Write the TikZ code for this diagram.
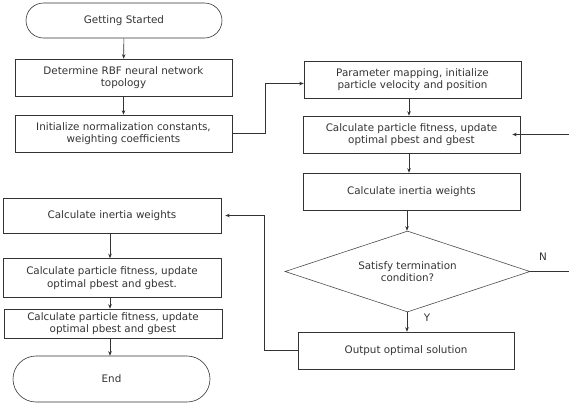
\documentclass[tikz,border=0pt]{standalone}
\usepackage{fontspec}
\setmainfont{DejaVu Sans}
\usetikzlibrary{shapes.misc,shapes.geometric,arrows.meta}
\tikzset{
  every node/.style={font=\fontsize{10.4}{12.5}\selectfont, text=black!80},
  box/.style={draw=black!80, line width=0.6pt, rectangle, align=center, inner sep=0pt},
  term/.style={draw=black!80, line width=0.6pt, rounded rectangle, align=center, inner sep=0pt},
  dec/.style={draw=black!70, line width=0.6pt, diamond, aspect=3, align=center, inner sep=0pt},
  arr/.style={draw=black!80, line width=0.6pt, -{Stealth[length=4.5pt,width=3.5pt]}},
  ln/.style={draw=black!80, line width=0.6pt},
}
\begin{document}
\begin{tikzpicture}[x=1bp,y=-1bp]
\useasboundingbox (0,0) rectangle (569,405);
\node[term, minimum width=196bp, minimum height=35bp] (start) at (124,20.5) {Getting Started};
\node[box, minimum width=217bp, minimum height=37bp] (b1) at (123.5,77.5) {Determine RBF neural network\\topology};
\node[box, minimum width=217bp, minimum height=37bp] (b2) at (123.5,133.5) {Initialize normalization constants,\\weighting coefficients};
\node[box, minimum width=217bp, minimum height=37bp] (param) at (412.5,79.5) {Parameter mapping, initialize\\particle velocity and position};
\node[box, minimum width=217bp, minimum height=37bp] (pb) at (411.5,134.5) {Calculate particle fitness, update\\optimal pbest and gbest};
\node[box, minimum width=217bp, minimum height=37bp] (inr) at (411.5,191.5) {Calculate inertia weights};
\node[dec, minimum width=245bp, minimum height=81bp] (dia) at (407.5,271.5) {Satisfy termination\\condition?};
\node[box, minimum width=216bp, minimum height=37bp] (out) at (406,350.5) {Output optimal solution};
\node[box, minimum width=218bp, minimum height=35bp] (linr) at (112,215.5) {Calculate inertia weights};
\node[box, minimum width=218bp, minimum height=39bp] (lpb1) at (112,278) {Calculate particle fitness, update\\optimal pbest and gbest.};
\node[box, minimum width=218bp, minimum height=29bp] (lpb2) at (113,323.5) {Calculate particle fitness, update\\optimal pbest and gbest};
\node[term, minimum width=197bp, minimum height=46bp] (end) at (111.5,379) {End};
\coordinate (rin) at (569,134.5);
\coordinate (rout) at (569,271.5);
\coordinate (colL) at (110,0);
\coordinate (colR) at (409,0);
\coordinate (colD) at (407,0);
\node (nlab) at (543,257) {N};
\node (ylab) at (427,318) {Y};
\draw[arr] (start) -- (b1);
\draw[arr] (b1) -- (b2);
\draw[arr] (b2.east) -- ++(33,0) |- ([yshift=-4bp]param.west);
\draw[arr] (param.south -| colR) -- (pb.north -| colR);
\draw[arr] (rin) -- ([xshift=-8bp]pb.east);
\draw[arr] (pb.south -| colR) -- (inr.north -| colR);
\draw[arr] (inr.south -| colD) -- (dia.north -| colD);
\draw[ln] (dia.east) -- (rout);
\draw[arr] (dia.south -| colD) -- (out.north -| colD);
\draw[arr] (out.west) -- ++(-33,0) |- ([xshift=4bp]linr.east);
\draw[arr] (linr.south -| colL) -- (lpb1.north -| colL);
\draw[arr] (lpb1.south -| colL) -- (lpb2.north -| colL);
\draw[arr] (lpb2.south -| colL) -- (end.north -| colL);
\end{tikzpicture}
\end{document}
